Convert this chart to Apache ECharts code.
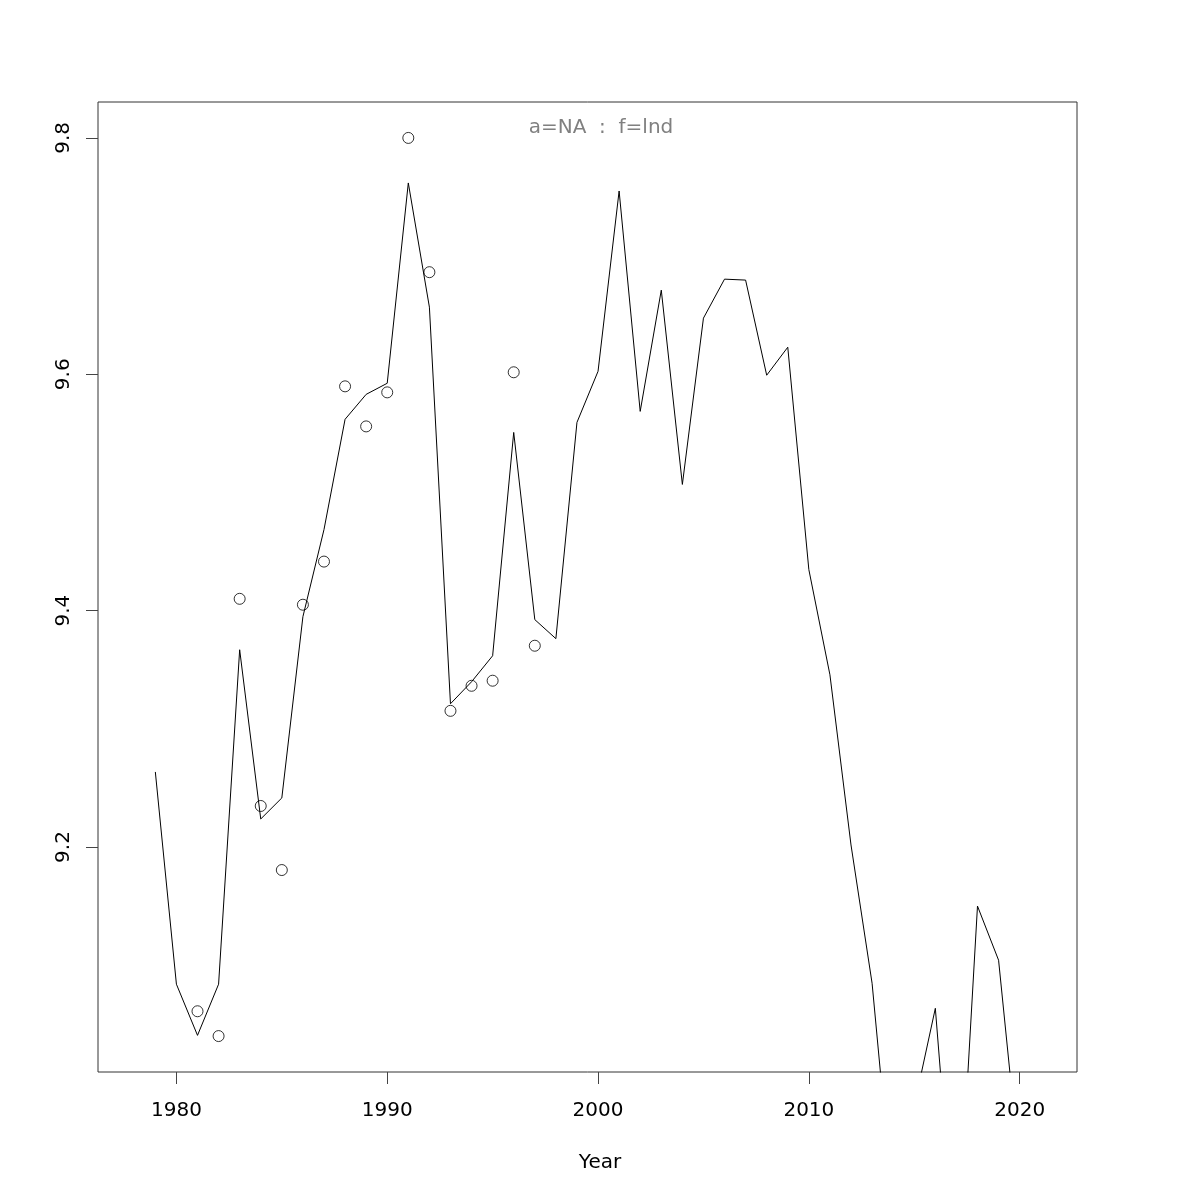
<!DOCTYPE html>
<html>
<head>
<meta charset="utf-8">
<script src="https://cdn.jsdelivr.net/npm/echarts@6/dist/echarts.min.js"></script>
<style>html,body{margin:0;padding:0;background:#fff}#chart{width:1200px;height:1200px}</style>
</head>
<body>
<div id="chart"></div>
<script>
// Fitted line (years and values)
const lineYears = [1979,1980,1981,1982,1983,1984,1985,1986,1987,1988,1989,1990,1991,1992,1993,1994,1995,1996,1997,1998,1999,2000,2001,2002,2003,2004,2005,2006,2007,2008,2009,2010,2011,2012,2013,2014,2015,2016,2017,2018,2019,2020];
const lineValues = [9.2635,9.0839,9.0406,9.0839,9.3669,9.2237,9.2415,9.3949,9.4686,9.5619,9.5830,9.5924,9.7619,9.6568,9.3212,9.3398,9.3618,9.5508,9.3924,9.3763,9.5593,9.6025,9.7551,9.5686,9.6712,9.5068,9.6475,9.6805,9.6797,9.5992,9.6229,9.4347,9.3457,9.2017,9.0847,8.894,8.981,9.0635,8.84,9.150,9.1042,8.9275];
// Observed points
const obsYears = [1981,1982,1983,1984,1985,1986,1987,1988,1989,1990,1991,1992,1993,1994,1995,1996,1997];
const obsValues = [9.061,9.040,9.410,9.2347,9.1805,9.405,9.4415,9.5898,9.5559,9.5847,9.800,9.6864,9.3152,9.3364,9.3407,9.6017,9.3703];
// Axis ticks
const xTicks = [1980,1990,2000,2010,2020];
const yTicks = [9.2,9.4,9.6,9.8];
const titleText = 'a=NA  :  f=lnd';
const xName = 'Year';

const FONT = 'DejaVu Sans';
const xMin = 1978 - 0.04*(2021-1978), xMax = 2021 + 0.04*(2021-1978);
const oMin = Math.min(...obsValues), oMax = Math.max(...obsValues);
const yMin = oMin - 0.04*(oMax-oMin), yMax = oMax + 0.04*(oMax-oMin);

const chart = echarts.init(document.getElementById('chart'), null, {renderer:'canvas'});
chart.setOption({
  animation: false,
  backgroundColor: '#fff',
  grid: {left: 98, right: 123, top: 102, bottom: 128, show: true, borderColor: '#333', borderWidth: 1, backgroundColor: 'transparent'},
  xAxis: {
    type: 'value', min: xMin, max: xMax,
    axisLine: {show: false},
    splitLine: {show: false},
    axisTick: {show: true, length: 12, lineStyle: {color: '#444'}, customValues: xTicks},
    axisLabel: {fontFamily: FONT, fontSize: 20, color: '#000', margin: 29, customValues: xTicks, formatter: v => String(v)}
  },
  yAxis: {
    type: 'value', min: yMin, max: yMax,
    axisLine: {show: false},
    splitLine: {show: false},
    axisTick: {show: true, length: 12, lineStyle: {color: '#444'}, customValues: yTicks},
    axisLabel: {fontFamily: FONT, fontSize: 20, color: '#000', margin: 24, rotate: 90, customValues: yTicks, formatter: v => v.toFixed(1)}
  },
  graphic: [{
    type: 'text', x: 601, y: 128,
    style: {text: titleText, fill: '#808080', font: '20px "DejaVu Sans"', textAlign: 'center', textVerticalAlign: 'middle'}
  }, {
    type: 'text', x: 600, y: 1163,
    style: {text: xName, fill: '#000', font: '20px "DejaVu Sans"', textAlign: 'center', textVerticalAlign: 'middle'}
  }],
  series: [
    {
      type: 'line', data: lineYears.map((y,i)=>[y, lineValues[i]]),
      showSymbol: false, symbol: 'none', clip: true,
      lineStyle: {color: '#000', width: 1}
    },
    {
      type: 'scatter', data: obsYears.map((y,i)=>[y, obsValues[i]]),
      symbol: 'circle', symbolSize: 11,
      itemStyle: {color: 'transparent', borderColor: '#000', borderWidth: 1}
    }
  ]
});
</script>
</body>
</html>
